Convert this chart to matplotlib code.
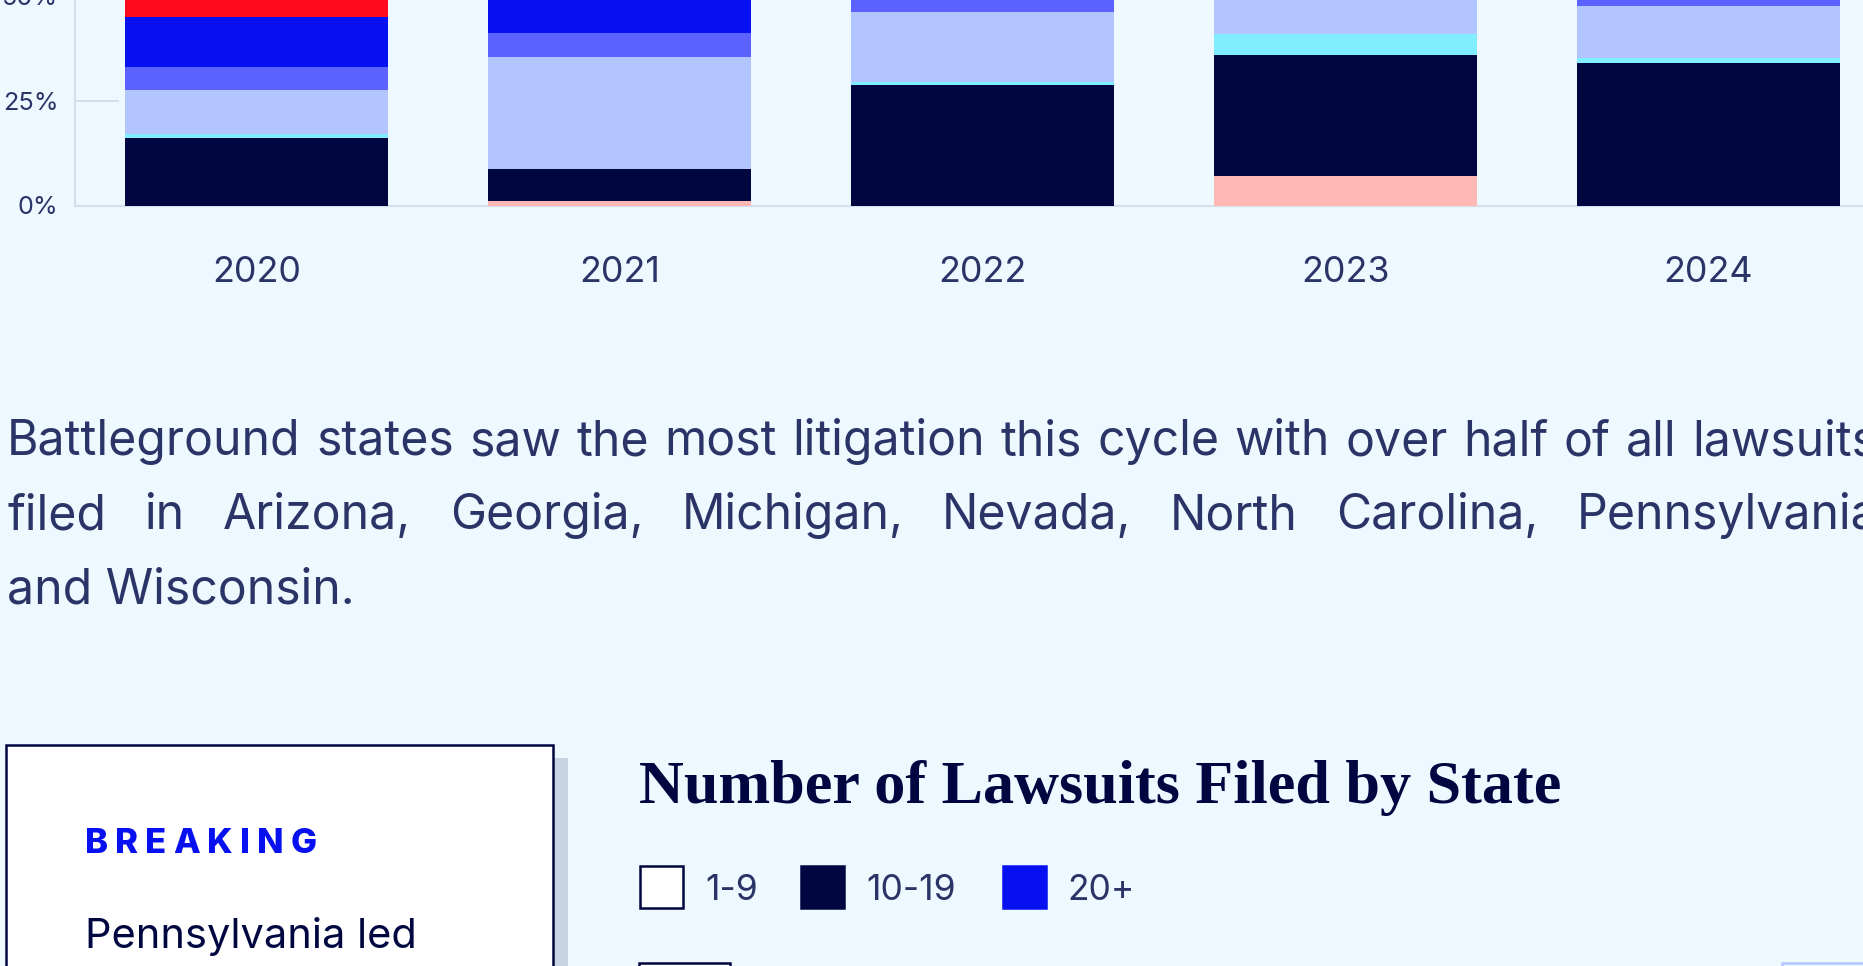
import matplotlib
matplotlib.use("Agg")
import matplotlib.pyplot as plt
from matplotlib.patches import Rectangle
import numpy as np

# data - share of lawsuits per year (percent), bottom to top
years = ["2020", "2021", "2022", "2023", "2024"]
pink = [0.0, 1.1, 0.0, 7.1, 0.0]
navy = [16.0, 7.7, 28.7, 28.8, 34.0]
cyan = [1.0, 0.0, 0.7, 5.0, 1.2]
lavender = [10.6, 26.7, 16.8, 12.0, 12.5]
midblue = [5.5, 5.6, 6.0, 6.0, 5.5]
blue = [11.8, 12.0, 14.0, 16.0, 14.0]
red = [55.1, 46.9, 33.8, 25.1, 32.8]
y_ticks = [0, 25, 50, 75, 100]

paragraph = ["Battleground states saw the most litigation this cycle with over half of all lawsuits",
             "filed in Arizona, Georgia, Michigan, Nevada, North Carolina, Pennsylvania,",
             "and Wisconsin."]
legend_labels = ["1-9", "10-19", "20+"]

# colours
BG = "#eef8ff"
TXT = "#2b3467"
NAVY = "#000640"
BLUE = "#0610f0"
AXIS = "#d5deeb"
series = [(pink, "#ffb8b3"), (navy, NAVY), (cyan, "#80eeff"), (lavender, "#b3c5ff"),
          (midblue, "#5b62ff"), (blue, BLUE), (red, "#ff0a1e")]

plt.rcParams['font.family'] = ['Inter', 'DejaVu Sans']

W, H = 1863, 966
fig = plt.figure(figsize=(W / 100, H / 100), dpi=100)
fig.patch.set_facecolor(BG)

# overlay in pixel coords for the page elements
ov = fig.add_axes([0, 0, 1, 1])
ov.set_xlim(0, W)
ov.set_ylim(H, 0)
ov.axis("off")
ov.patch.set_alpha(0)

# chart axes (100% stacked, cropped at the top of the screenshot)
ax = fig.add_axes([75 / W, (H - 205.5) / H, 1815 / W, 419 / H])
ax.patch.set_alpha(0)
x = np.arange(len(years))
bottom = np.zeros(len(years))
for vals, col in series:
    ax.bar(x, vals, bottom=bottom, width=0.722, color=col, linewidth=0, zorder=3)
    bottom += np.array(vals)
ax.set_xlim(-0.5, 4.5)
ax.set_ylim(0, 100)
ax.set_yticks(y_ticks)
ax.set_yticklabels([f"{t}%" for t in y_ticks])
ax.set_xticks(x)
ax.set_xticklabels(years)
for s in ["top", "right"]:
    ax.spines[s].set_visible(False)
for s in ["left", "bottom"]:
    ax.spines[s].set_color(AXIS)
    ax.spines[s].set_linewidth(1.6)
ax.set_axisbelow(True)
ax.tick_params(axis="y", direction="in", length=32, width=1.4, color=AXIS,
               labelsize=18.2, labelcolor=TXT, pad=12)
ax.tick_params(axis="x", length=0, labelsize=25.8, labelcolor=TXT, pad=36)

renderer = fig.canvas.get_renderer()


def text_w(s, **kw):
    t = ov.text(0, 0, s, **kw)
    w = t.get_window_extent(renderer).width
    t.remove()
    return w


def justify(words, y, x0, x_last, **kw):
    widths = [text_w(w, **kw) for w in words]
    gap = (x_last - x0 - sum(widths[:-1])) / (len(words) - 1)
    xx = x0
    for w, wd in zip(words, widths):
        ov.text(xx, y, w, va="baseline", ha="left", **kw)
        xx += wd + gap


def tracked(x0, y, s, width, **kw):
    track = (width - text_w(s, **kw)) / (len(s) - 1)
    for i, ch in enumerate(s):
        cx = x0 + (text_w(s[:i], **kw) + track * i if i else 0)
        ov.text(cx, y, ch, va="baseline", ha="left", **kw)


# paragraph
para_kw = dict(fontsize=34.7, color=TXT)
justify(paragraph[0].split(), 455, 7, 1692, **para_kw)
justify(paragraph[1].split(), 529, 7, 1577, **para_kw)
ov.text(7, 603, paragraph[2], va="baseline", ha="left", **para_kw)

# breaking card with shadow
ov.add_patch(Rectangle((20, 758), 548, 300, facecolor="#c8d4e3", edgecolor="none", zorder=1))
ov.add_patch(Rectangle((6, 745), 547, 300, facecolor="white", edgecolor=NAVY, linewidth=1.8, zorder=2))
tracked(85, 853, "BREAKING", 232, fontsize=25, fontweight="heavy", color=BLUE, zorder=3)
ov.text(85, 948, "Pennsylvania led", va="baseline", ha="left", fontsize=29.9, color=NAVY, zorder=3)

# map title, sized to the width it has in the page
title = "Number of Lawsuits Filed by State"
title_kw = dict(fontweight="bold", color=NAVY, family=["Liberation Serif", "DejaVu Serif"])
title_size = 42.4 * 922 / text_w(title, fontsize=42.4, **title_kw)
ov.text(639, 803, title, va="baseline", ha="left", fontsize=title_size, **title_kw)

sq_x = [639, 800, 1002]
lab_x = [705, 866, 1067]
sq_face = ["white", NAVY, BLUE]
for sx, lx, fc, lab in zip(sq_x, lab_x, sq_face, legend_labels):
    ov.add_patch(Rectangle((sx + 1, 866), 43, 42, facecolor=fc,
                           edgecolor=NAVY if fc == "white" else fc, linewidth=1.8))
    ov.text(lx, 900, lab, va="baseline", ha="left", fontsize=25.5, color=TXT)

# tops of the map tiles peeking in at the bottom edge
ov.add_patch(Rectangle((639, 963), 91, 20, facecolor="white", edgecolor=NAVY, linewidth=1.8))
ov.add_patch(Rectangle((1782, 963), 120, 20, facecolor=BG, edgecolor="#b3c5ff", linewidth=1.8))

fig.savefig("out.png", dpi=100, facecolor=BG)
